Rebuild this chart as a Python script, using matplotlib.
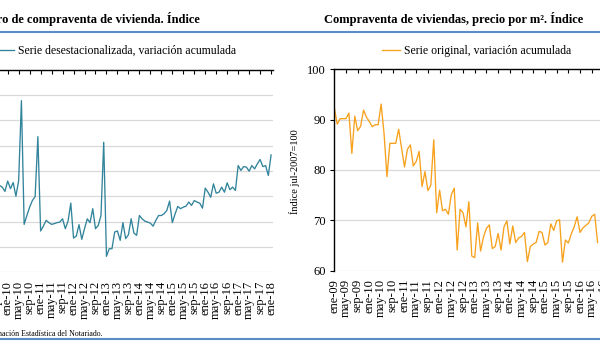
import numpy as np
import matplotlib
matplotlib.use("Agg")
import matplotlib.pyplot as plt
from matplotlib.lines import Line2D

plt.rcParams["font.family"] = ["Liberation Serif", "DejaVu Serif"]

W, H = 600, 350

# Número de compraventas, serie desestacionalizada (sep-09 .. ene-18, mensual)
sales_values = [
    54.6, 54.3, 53.6, 51.9, 56.0, 53.0, 55.4, 50.0, 56.2, 87.7,
    38.9, 42.4, 45.7, 48.3, 49.9, 73.5, 36.3, 38.2, 40.5, 39.6,
    38.9, 39.2, 39.6, 39.8, 41.1, 37.2, 40.2, 47.3, 33.5, 34.3,
    38.8, 33.0, 37.2, 41.1, 39.6, 45.1, 37.2, 38.5, 42.4, 71.3,
    26.3, 29.3, 29.3, 35.9, 36.3, 32.6, 39.6, 33.3, 34.8, 41.1,
    35.5, 34.6, 42.4, 41.1, 40.2, 39.8, 39.4, 38.2, 40.5, 42.4,
    42.4, 43.1, 44.4, 48.1, 39.6, 43.0, 46.0, 45.1, 45.7, 46.1,
    47.7, 46.4, 48.3, 47.7, 47.3, 45.3, 53.2, 51.6, 49.6, 54.9,
    51.2, 51.6, 53.6, 51.6, 55.3, 52.6, 53.6, 52.3, 62.1, 60.2,
    61.7, 61.5, 59.9, 62.1, 60.8, 62.8, 64.5, 61.7, 62.1, 58.2,
    66.3,
]
sales_ticklabels = [
    "sep-09", "ene-10", "may-10", "sep-10", "ene-11", "may-11", "sep-11",
    "ene-12", "may-12", "sep-12", "ene-13", "may-13", "sep-13", "ene-14",
    "may-14", "sep-14", "ene-15", "may-15", "sep-15", "ene-16", "may-16",
    "sep-16", "ene-17", "may-17", "sep-17", "ene-18",
]
sales_yticks = [20, 30, 40, 50, 60, 70, 80, 90, 100]

# Precio por m2, serie original (ene-09 en adelante, mensual)
price_values = [
    92.4, 89.1, 90.2, 90.2, 90.2, 91.3, 83.3, 90.7, 87.8, 88.7,
    91.9, 90.5, 89.6, 88.6, 89.0, 89.0, 93.1, 87.3, 78.7, 85.3,
    85.3, 85.3, 88.1, 84.3, 80.6, 84.1, 85.0, 80.8, 81.7, 83.7,
    76.7, 79.7, 75.9, 77.0, 86.0, 71.5, 76.0, 71.9, 72.2, 71.2,
    75.1, 76.4, 64.1, 72.2, 71.5, 68.7, 73.7, 62.9, 62.6, 69.5,
    63.9, 66.7, 68.4, 69.1, 64.4, 64.8, 67.4, 64.1, 68.7, 69.9,
    65.3, 68.9, 65.6, 66.5, 66.8, 67.6, 61.8, 64.8, 65.3, 65.6,
    67.8, 67.6, 65.1, 65.6, 69.3, 68.0, 69.9, 70.1, 61.7, 66.1,
    65.5, 67.3, 68.7, 70.7, 67.6, 68.5, 69.0, 69.5, 70.8, 71.2,
    65.6,
]
price_ticklabels = [
    "ene-09", "may-09", "sep-09", "ene-10", "may-10", "sep-10", "ene-11",
    "may-11", "sep-11", "ene-12", "may-12", "sep-12", "ene-13", "may-13",
    "sep-13", "ene-14", "may-14", "sep-14", "ene-15", "may-15", "sep-15",
    "ene-16", "may-16", "sep-16", "ene-17", "may-17", "sep-17", "ene-18",
]
price_yticks = [60, 70, 80, 90, 100]

TEAL = "#31849b"
ORANGE = "#f7a11c"
GRID = "#d9d9d9"
BLUE_RULE = "#5b8cc8"


def fx(px):
    return px / W


def fy(py):
    return 1 - py / H


def style_axes(ax):
    for s in ("right", "bottom", "left"):
        ax.spines[s].set_visible(False)
    ax.spines["top"].set_linewidth(1.0)
    ax.grid(axis="y", color=GRID, linewidth=0.9)
    ax.grid(axis="x", visible=False)
    ax.set_axisbelow(True)
    ax.tick_params(axis="x", top=True, bottom=False, labeltop=False,
                   labelbottom=True, direction="in", length=3, width=0.8,
                   pad=6, labelsize=9, labelrotation=90)


def make_sales_panel(ax):
    x = np.arange(len(sales_values))
    ax.plot(x, sales_values, color=TEAL, linewidth=0.95,
            label="Serie desestacionalizada, variación acumulada")
    style_axes(ax)
    ax.set_xticks(np.arange(0, 4 * len(sales_ticklabels), 4))
    ax.set_xticklabels(sales_ticklabels)
    ax.set_xlim(-5, 100.7)
    ax.set_yticks(sales_yticks)
    ax.set_ylim(sales_yticks[0], sales_yticks[-1])
    ax.tick_params(axis="y", left=False, labelleft=False)


def make_price_panel(ax):
    x = np.arange(len(price_values))
    ax.plot(x, price_values, color=ORANGE, linewidth=0.95,
            label="Serie original, variación acumulada")
    style_axes(ax)
    ax.spines["left"].set_visible(True)
    ax.spines["left"].set_linewidth(1.0)
    ax.set_xticks(np.arange(0, 4 * len(price_ticklabels), 4))
    ax.set_xticklabels(price_ticklabels)
    ax.set_xlim(0, 108.7)
    ax.set_yticks(price_yticks)
    ax.set_ylim(price_yticks[0], price_yticks[-1])
    ax.tick_params(axis="y", direction="out", length=3, width=0.8,
                   pad=3, labelsize=9)


def main():
    fig = plt.figure(figsize=(6, 3.5), dpi=100)

    ax_l = fig.add_axes([fx(-17), fy(272.3), 290 / W, (272.3 - 69.5) / H])
    ax_r = fig.add_axes([fx(334.3), fy(270.7), 318 / W, (270.7 - 69.3) / H])
    make_sales_panel(ax_l)
    make_price_panel(ax_r)

    # titles
    fig.text(fx(200), fy(23.3), "Número de compraventa de vivienda. Índice",
             ha="right", va="baseline", fontsize=9, fontweight="bold")
    fig.text(fx(453.5), fy(23.3), "Compraventa de viviendas, precio por m². Índice",
             ha="center", va="baseline", fontsize=9, fontweight="bold")

    # legends
    for ax, x0 in ((ax_l, -4.3), (ax_r, 382)):
        ax.legend(loc="center left", bbox_to_anchor=(fx(x0), fy(51)),
                  bbox_transform=fig.transFigure, frameon=False, fontsize=8.5,
                  handlelength=1.55, handletextpad=0.3, borderpad=0,
                  borderaxespad=0)

    fig.text(fx(295), fy(172), "Índice jul-2007=100", rotation=90,
             ha="center", va="center", fontsize=7.5)

    fig.text(fx(103), fy(336), "Fuente: Consejo General del Notariado, Información Estadística del Notariado.",
             ha="right", va="baseline", fontsize=5.7)

    # blue rules
    for yy in (32, 339.3):
        fig.add_artist(Line2D([0, 1], [fy(yy), fy(yy)], transform=fig.transFigure,
                              color=BLUE_RULE, linewidth=1.5))

    fig.savefig("out.png", dpi=100, facecolor="white")
    plt.close(fig)


if __name__ == "__main__":
    main()
